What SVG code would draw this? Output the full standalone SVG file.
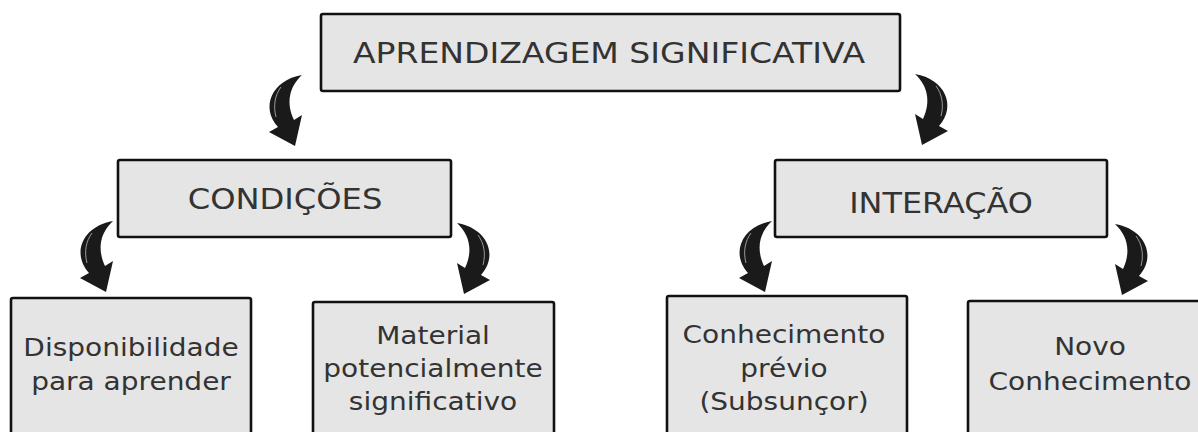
<svg xmlns="http://www.w3.org/2000/svg" width="1198" height="432" viewBox="0 0 1198 432">
<style>
.box{fill:#e5e5e5;stroke:#111;stroke-width:2.6}
.h{font-family:"DejaVu Sans",Verdana,sans-serif;font-size:29px;fill:#333;text-anchor:middle}
.t{font-family:"DejaVu Sans",Verdana,sans-serif;font-size:25px;fill:#333;text-anchor:middle}
.arr{fill:#1a1a1a}
.hl{fill:none;stroke:#9a9a9a;stroke-width:1}
</style>
<defs>
<g id="arrowL">
<path class="arr" d="M0,0 C-30,5 -42,32 -24,52 L-33,57 L-7,71 L0,40 L-8,45 C-16,28 -13,12 0,0 Z"/>
<path class="hl" d="M-21,12 C-27,20 -29,31 -26,42"/>
</g>
</defs>
<rect width="1198" height="432" fill="#fff"/>
<g id="connectors">
<use href="#arrowL" transform="translate(302,75)"/>
<use href="#arrowL" transform="translate(915,74) scale(-1,1)"/>
<use href="#arrowL" transform="translate(113,221)"/>
<use href="#arrowL" transform="translate(457,223) scale(-1,1)"/>
<use href="#arrowL" transform="translate(772,221)"/>
<use href="#arrowL" transform="translate(1115,224) scale(-1,1)"/>
</g>
<g id="n-aprendizagem">
<rect class="box" x="321" y="14" width="579" height="77" rx="2"/>
<text class="h" transform="translate(609,63) scale(1.14,1)">APRENDIZAGEM SIGNIFICATIVA</text>
</g>
<g id="n-condicoes">
<rect class="box" x="118" y="160" width="333" height="77" rx="2"/>
<text class="h" transform="translate(285,209) scale(1.11,1)">CONDIÇÕES</text>
</g>
<g id="n-interacao">
<rect class="box" x="775" y="160" width="332" height="77" rx="2"/>
<text class="h" transform="translate(941,213) scale(1.1,1)">INTERAÇÃO</text>
</g>
<g id="n-disponibilidade">
<rect class="box" x="11" y="298" width="240" height="160" rx="2"/>
<text class="t" transform="translate(131,356) scale(1.12,1)">Disponibilidade</text>
<text class="t" transform="translate(131,390) scale(1.12,1)">para aprender</text>
</g>
<g id="n-material">
<rect class="box" x="313" y="302" width="241" height="160" rx="2"/>
<text class="t" transform="translate(433,344) scale(1.12,1)">Material</text>
<text class="t" transform="translate(433,377) scale(1.12,1)">potencialmente</text>
<text class="t" transform="translate(433,410) scale(1.12,1)">significativo</text>
</g>
<g id="n-previo">
<rect class="box" x="667" y="296" width="240" height="160" rx="2"/>
<text class="t" transform="translate(784,343) scale(1.12,1)">Conhecimento</text>
<text class="t" transform="translate(784,377) scale(1.12,1)">prévio</text>
<text class="t" transform="translate(784,410) scale(1.12,1)">(Subsunçor)</text>
</g>
<g id="n-novo">
<rect class="box" x="968" y="301" width="250" height="160" rx="2"/>
<text class="t" transform="translate(1090,355) scale(1.12,1)">Novo</text>
<text class="t" transform="translate(1090,390) scale(1.12,1)">Conhecimento</text>
</g>
</svg>
